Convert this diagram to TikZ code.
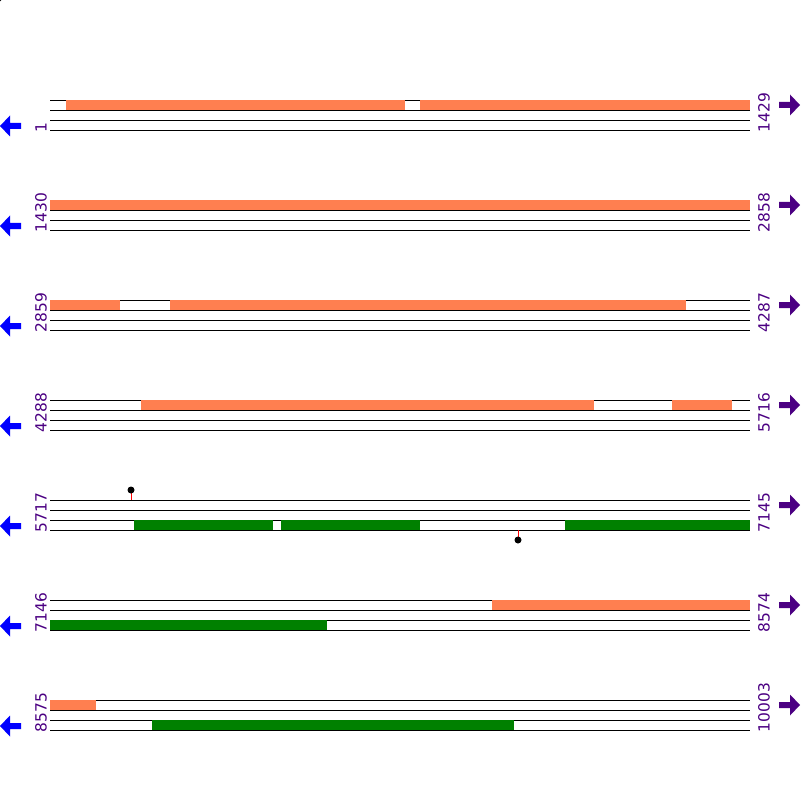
\documentclass[tikz,border=0pt]{standalone}
\usepackage[svgnames]{xcolor}
\usepackage{fontspec}
\setmainfont{DejaVu Sans}
\tikzset{>=latex}

\begin{document}
\begin{tikzpicture}[x=0.025cm, y=-0.025cm,
    seqline/.style={black, line width=0.7pt},
    orfbox/.style={fill=Coral},
    genebox/.style={fill=Green},
    pinstem/.style={Red, line width=0.7pt},
    poslabel/.style={rotate=90, anchor=west, inner sep=0pt, text=Indigo, font=\fontsize{11}{12}\selectfont}]
    \useasboundingbox (0,0) rectangle (800,800);
    \fill (0,0) circle (1.5);
    \foreach \r/\a/\b in {0/1/1429, 1/1430/2858, 2/2859/4287, 3/4288/5716, 4/5717/7145, 5/7146/8574, 6/8575/10003} {
        \pgfmathsetmacro{\yy}{100+100*\r}
        \foreach \k in {0,10,20,30} \draw [seqline] (50,\yy+\k) -- (750,\yy+\k);
        \node [poslabel] (start\r) at (41,\yy+32.5) {\a};
        \node [poslabel] (end\r) at (764,\yy+32.5) {\b};
        \fill [Blue] (0,\yy+26) -- (10,\yy+15.5) -- (10,\yy+23) -- (21,\yy+23) -- (21,\yy+29) -- (10,\yy+29) -- (10,\yy+36.5) -- cycle;
        \fill [Indigo] (800,\yy+5) -- (790,\yy-5.5) -- (790,\yy+2) -- (779,\yy+2) -- (779,\yy+8) -- (790,\yy+8) -- (790,\yy+15.5) -- cycle;
    }
    % frame +1
    \fill [orfbox] (66,100) rectangle (405,110);
    \fill [orfbox] (420,100) rectangle (750,110);
    \fill [orfbox] (50,200) rectangle (750,210);
    \fill [orfbox] (50,300) rectangle (120,310);
    \fill [orfbox] (170,300) rectangle (686,310);
    \fill [orfbox] (141,400) rectangle (594,410);
    \fill [orfbox] (672,400) rectangle (732,410);
    \fill [orfbox] (492,600) rectangle (750,610);
    \fill [orfbox] (50,700) rectangle (96,710);
    % frame +3
    \fill [genebox] (134,520) rectangle (273,530);
    \fill [genebox] (281,520) rectangle (420,530);
    \fill [genebox] (565,520) rectangle (750,530);
    \fill [genebox] (50,620) rectangle (327,630);
    \fill [genebox] (152,720) rectangle (514,730);
    % sites
    \draw [pinstem] (131,500) -- (131,490);
    \fill (131,490) circle (3.5);
    \draw [pinstem] (518,530) -- (518,540);
    \fill (518,540) circle (3.5);
\end{tikzpicture}
\end{document}
